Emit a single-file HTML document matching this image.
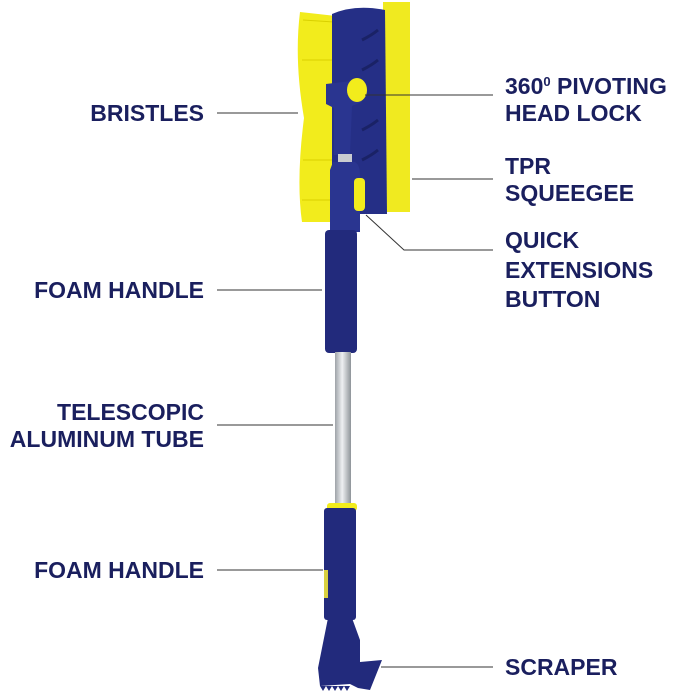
<!DOCTYPE html>
<html><head><meta charset="utf-8"><style>
html,body{margin:0;padding:0;background:#fff;width:679px;height:692px;overflow:hidden}
svg{display:block}
text{font-family:"Liberation Sans",sans-serif;font-weight:bold;font-size:23px;fill:#1a1f5e}
</style></head><body>
<svg width="679" height="692" viewBox="0 0 679 692">
<defs>
<linearGradient id="tube" x1="0" x2="1"><stop offset="0" stop-color="#9ea3a8"/><stop offset=".45" stop-color="#eef0f2"/><stop offset="1" stop-color="#8e9499"/></linearGradient>
</defs>
<!-- bristles -->
<path d="M300 12 L336 16 L336 222 L302 222 Q296 180 304 118 Q294 60 300 12 Z" fill="#f2ec1c"/>
<path d="M303 20 L334 22 M302 60 L334 60 M303 160 L334 160 M302 200 L334 200" stroke="#d9d000" stroke-width="1"/>
<!-- squeegee -->
<rect x="383" y="2" width="27" height="210" fill="#f0ea20"/>
<!-- head -->
<path d="M332 14 Q355 4 385 10 L387 214 L338 214 L332 208 Z" fill="#252f86"/>
<path d="M362 40 q10 -5 16 -10 M362 70 q10 -5 16 -10 M362 130 q10 -5 16 -10 M362 160 q10 -5 16 -10" stroke="#1a2266" stroke-width="3" fill="none"/>
<!-- pivot neck -->
<path d="M326 84 L360 80 L362 102 L352 106 L350 155 L334 155 L334 108 L326 104 Z" fill="#2a3590"/>
<ellipse cx="357" cy="90" rx="10" ry="12" fill="#f2ec1c"/>
<rect x="338" y="154" width="14" height="8" fill="#c9ccd0"/>
<path d="M333 162 L355 162 Q360 165 360 175 L360 232 L330 232 L330 170 Z" fill="#2a3590"/>
<rect x="354" y="178" width="11" height="33" rx="4" fill="#f2ec1c"/>
<!-- upper foam handle -->
<rect x="325" y="230" width="32" height="123" rx="4" fill="#222a7c"/>
<!-- tube -->
<rect x="335" y="352" width="16" height="154" fill="url(#tube)"/>
<!-- lower handle -->
<rect x="327" y="503" width="30" height="8" rx="3" fill="#f2ec1c"/>
<rect x="324" y="508" width="32" height="112" rx="3" fill="#222a7c"/>
<rect x="324" y="570" width="4" height="28" fill="#d8d040"/>
<!-- scraper -->
<path d="M328 618 L352 618 L360 640 L360 662 L382 660 L370 690 L358 688 L350 684 L320 686 L318 668 Z" fill="#222a7c"/>
<path d="M320 686 l3 5 l3 -5 l3 5 l3 -5 l3 5 l3 -5 l3 5 l3 -5 l3 5 l3 -5" fill="#222a7c"/>
<!-- leader lines -->
<g stroke="#333" stroke-width="1" fill="none">
<line x1="217" y1="113" x2="298" y2="113"/>
<line x1="365" y1="95" x2="493" y2="95"/>
<line x1="412" y1="179" x2="493" y2="179"/>
<polyline points="366,215 404,250 493,250"/>
<line x1="217" y1="290" x2="322" y2="290"/>
<line x1="217" y1="425" x2="333" y2="425"/>
<line x1="217" y1="570" x2="323" y2="570"/>
<line x1="381" y1="667" x2="493" y2="667"/>
</g>
<!-- labels -->
<g text-anchor="end">
<text x="204" y="121">BRISTLES</text>
<text x="204" y="298">FOAM HANDLE</text>
<text x="204" y="420">TELESCOPIC</text>
<text x="204" y="447">ALUMINUM TUBE</text>
<text x="204" y="578">FOAM HANDLE</text>
</g>
<text x="505" y="94">360<tspan font-size="13" dy="-8">0</tspan><tspan dy="8"> PIVOTING</tspan></text>
<text x="505" y="121">HEAD LOCK</text>
<text x="505" y="174">TPR</text>
<text x="505" y="201">SQUEEGEE</text>
<text x="505" y="248">QUICK</text>
<text x="505" y="278">EXTENSIONS</text>
<text x="505" y="307">BUTTON</text>
<text x="505" y="675">SCRAPER</text>
</svg>
</body></html>
